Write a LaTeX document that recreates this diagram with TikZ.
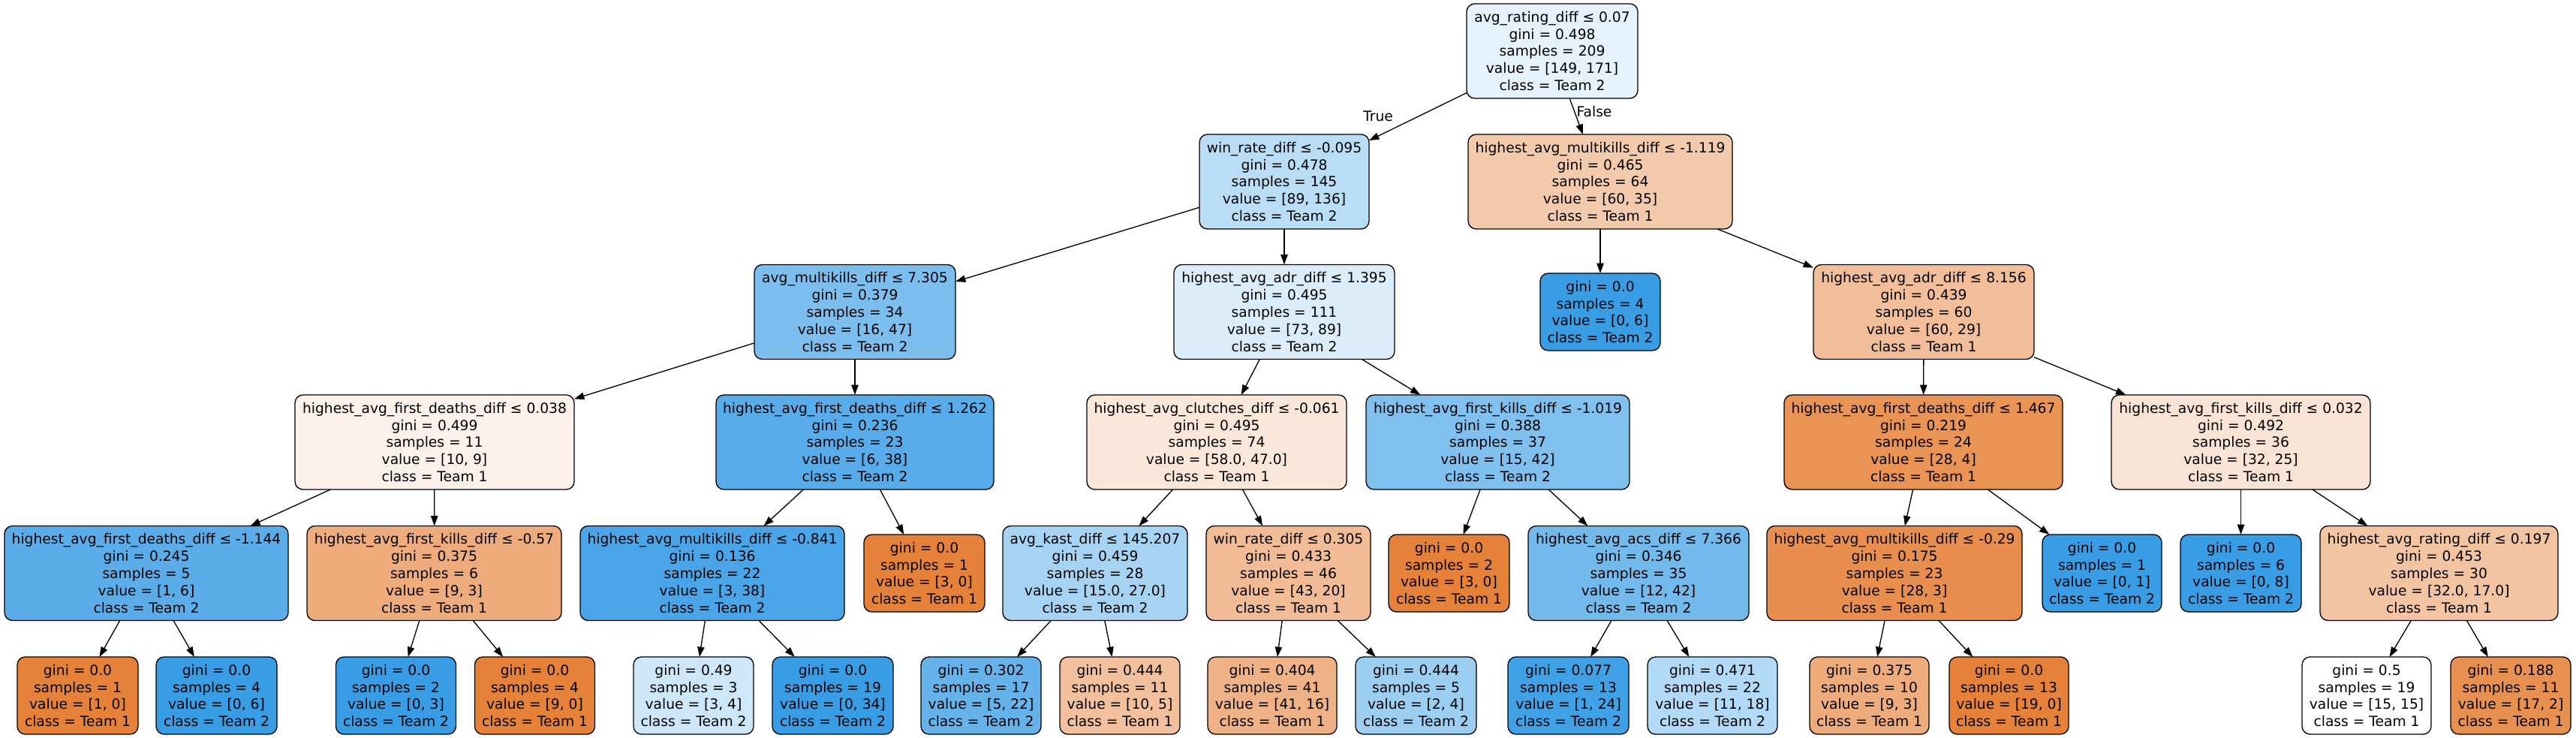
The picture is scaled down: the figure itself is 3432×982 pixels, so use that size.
\documentclass[tikz,border=0pt]{standalone}
\usepackage{fontspec}
\newfontfamily\dvs{DejaVu Sans}
\usetikzlibrary{arrows.meta}
\definecolor{cA}{RGB}{229,129,57}
\definecolor{cB}{RGB}{57,157,229}
\newcommand\splittxt[5]{#1\\gini = #2\\samples = #3\\value = [#4]\\class = Team #5}
\newcommand\leaftxt[4]{gini = #1\\samples = #2\\value = [#3]\\class = Team #4}
\tikzset{
  tn/.style={draw=black, line width=1pt, rounded corners=8pt, align=center,
    inner sep=0pt, outer sep=0pt, minimum height=126*0.75pt,
    font=\dvs\fontsize{14pt}{17.2pt}\selectfont},
  lf/.style={tn, minimum height=103*0.75pt},
  wd/.style={minimum width=#1*0.75pt},
  edg/.style={draw=black, line width=1pt, -{Triangle[length=10pt,width=7pt]}},
  elab/.style={inner sep=0pt, font=\dvs\fontsize{14pt}{17.2pt}\selectfont},
}
\begin{document}
\begin{tikzpicture}[x=0.75pt,y=-0.75pt]
\fill[white] (0,0) rectangle (3432,982);
\useasboundingbox (0,0) rectangle (3432,982);
% level 0
\node[tn, wd=228, fill=cB!12.9] (n0) at (2068,68) {\splittxt{avg\_rating\_diff ≤ 0.07}{0.498}{209}{149, 171}{2}};
% level 1
\node[tn, wd=226, fill=cB!34.6] (n1) at (1711,242) {\splittxt{win\_rate\_diff ≤ -0.095}{0.478}{145}{89, 136}{2}};
\node[tn, wd=352, fill=cA!41.7] (n2) at (2132,242) {\splittxt{highest\_avg\_multikills\_diff ≤ -1.119}{0.465}{64}{60, 35}{1}};
% level 2
\node[tn, wd=268, fill=cB!66.0] (n3) at (1139,415.5) {\splittxt{avg\_multikills\_diff ≤ 7.305}{0.379}{34}{16, 47}{2}};
\node[tn, wd=294, fill=cB!18.0] (n4) at (1711,415.5) {\splittxt{highest\_avg\_adr\_diff ≤ 1.395}{0.495}{111}{73, 89}{2}};
\node[lf, wd=160, fill=cB] (n5) at (2132,415.5) {\leaftxt{0.0}{4}{0, 6}{2}};
\node[tn, wd=294, fill=cA!51.7] (n6) at (2563,415.5) {\splittxt{highest\_avg\_adr\_diff ≤ 8.156}{0.439}{60}{60, 29}{1}};
% level 3
\node[tn, wd=372, fill=cA!10] (n7) at (579,589) {\splittxt{highest\_avg\_first\_deaths\_diff ≤ 0.038}{0.499}{11}{10, 9}{1}};
\node[tn, wd=370, fill=cB!84.2] (n8) at (1139,589) {\splittxt{highest\_avg\_first\_deaths\_diff ≤ 1.262}{0.236}{23}{6, 38}{2}};
\node[tn, wd=346, fill=cA!19.0] (n9) at (1621,589) {\splittxt{highest\_avg\_clutches\_diff ≤ -0.061}{0.495}{74}{58.0, 47.0}{1}};
\node[tn, wd=351, fill=cB!64.3] (n10) at (1995.5,589) {\splittxt{highest\_avg\_first\_kills\_diff ≤ -1.019}{0.388}{37}{15, 42}{2}};
\node[tn, wd=371, fill=cA!85.7] (n11) at (2562.5,589) {\splittxt{highest\_avg\_first\_deaths\_diff ≤ 1.467}{0.219}{24}{28, 4}{1}};
\node[tn, wd=345, fill=cA!21.9] (n12) at (2985.5,589) {\splittxt{highest\_avg\_first\_kills\_diff ≤ 0.032}{0.492}{36}{32, 25}{1}};
% level 4
\node[tn, wd=378, fill=cB!83.3] (n13) at (195,763.5) {\splittxt{highest\_avg\_first\_deaths\_diff ≤ -1.144}{0.245}{5}{1, 6}{2}};
\node[tn, wd=339, fill=cA!66.7] (n14) at (578.5,763.5) {\splittxt{highest\_avg\_first\_kills\_diff ≤ -0.57}{0.375}{6}{9, 3}{1}};
\node[tn, wd=352, fill=cB!92.1] (n15) at (949,763.5) {\splittxt{highest\_avg\_multikills\_diff ≤ -0.841}{0.136}{22}{3, 38}{2}};
\node[lf, wd=161, fill=cA] (n16) at (1231.5,763.5) {\leaftxt{0.0}{1}{3, 0}{1}};
\node[tn, wd=246, fill=cB!44.4] (n17) at (1459,763.5) {\splittxt{avg\_kast\_diff ≤ 145.207}{0.459}{28}{15.0, 27.0}{2}};
\node[tn, wd=219, fill=cA!53.5] (n18) at (1716.5,763.5) {\splittxt{win\_rate\_diff ≤ 0.305}{0.433}{46}{43, 20}{1}};
\node[lf, wd=161, fill=cA] (n19) at (1930.5,763.5) {\leaftxt{0.0}{2}{3, 0}{1}};
\node[tn, wd=294, fill=cB!71.4] (n20) at (2183,763.5) {\splittxt{highest\_avg\_acs\_diff ≤ 7.366}{0.346}{35}{12, 42}{2}};
\node[tn, wd=340, fill=cA!89.3] (n21) at (2524,763.5) {\splittxt{highest\_avg\_multikills\_diff ≤ -0.29}{0.175}{23}{28, 3}{1}};
\node[lf, wd=159, fill=cB] (n22) at (2800.5,763.5) {\leaftxt{0.0}{1}{0, 1}{2}};
\node[lf, wd=161, fill=cB] (n23) at (2985.5,763.5) {\leaftxt{0.0}{6}{0, 8}{2}};
\node[tn, wd=317, fill=cA!46.9] (n24) at (3249.5,763.5) {\splittxt{highest\_avg\_rating\_diff ≤ 0.197}{0.453}{30}{32.0, 17.0}{1}};
% level 5
\node[lf, wd=161, fill=cA] (l1) at (103.5,926.5) {\leaftxt{0.0}{1}{1, 0}{1}};
\node[lf, wd=161, fill=cB] (l2) at (288.5,926.5) {\leaftxt{0.0}{4}{0, 6}{2}};
\node[lf, wd=160, fill=cB] (l3) at (527.5,926.5) {\leaftxt{0.0}{2}{0, 3}{2}};
\node[lf, wd=160, fill=cA] (l4) at (712.5,926.5) {\leaftxt{0.0}{4}{9, 0}{1}};
\node[lf, wd=160, fill=cB!25] (l5) at (924,926.5) {\leaftxt{0.49}{3}{3, 4}{2}};
\node[lf, wd=161, fill=cB] (l6) at (1109.5,926.5) {\leaftxt{0.0}{19}{0, 34}{2}};
\node[lf, wd=160, fill=cB!77.3] (l7) at (1307,926.5) {\leaftxt{0.302}{17}{5, 22}{2}};
\node[lf, wd=160, fill=cA!50] (l8) at (1492,926.5) {\leaftxt{0.444}{11}{10, 5}{1}};
\node[lf, wd=172, fill=cA!61.0] (l9) at (1695,926.5) {\leaftxt{0.404}{41}{41, 16}{1}};
\node[lf, wd=161, fill=cB!50] (l10) at (1886.5,926.5) {\leaftxt{0.444}{5}{2, 4}{2}};
\node[lf, wd=161, fill=cB!95.8] (l11) at (2089.5,926.5) {\leaftxt{0.077}{13}{1, 24}{2}};
\node[lf, wd=173, fill=cB!38.9] (l12) at (2281.5,926.5) {\leaftxt{0.471}{22}{11, 18}{2}};
\node[lf, wd=159, fill=cA!66.7] (l13) at (2490.5,926.5) {\leaftxt{0.375}{10}{9, 3}{1}};
\node[lf, wd=159, fill=cA] (l14) at (2676.5,926.5) {\leaftxt{0.0}{13}{19, 0}{1}};
\node[lf, wd=172, fill=white] (l15) at (3153,926.5) {\leaftxt{0.5}{19}{15, 15}{1}};
\node[lf, wd=160, fill=cA!88.2] (l16) at (3345,926.5) {\leaftxt{0.188}{11}{17, 2}{1}};
% edges
\draw[edg] (n0) -- (n1);
\draw[edg] (n0) -- (n2);
\draw[edg] (n1) -- (n3);
\draw[edg] (n1) -- (n4);
\draw[edg] (n2) -- (n5);
\draw[edg] (n2) -- (n6);
\draw[edg] (n3) -- (n7);
\draw[edg] (n3) -- (n8);
\draw[edg] (n4) -- (n9);
\draw[edg] (n4) -- (n10);
\draw[edg] (n6) -- (n11);
\draw[edg] (n6) -- (n12);
\draw[edg] (n7) -- (n13);
\draw[edg] (n7) -- (n14);
\draw[edg] (n8) -- (n15);
\draw[edg] (n8) -- (n16);
\draw[edg] (n9) -- (n17);
\draw[edg] (n9) -- (n18);
\draw[edg] (n10) -- (n19);
\draw[edg] (n10) -- (n20);
\draw[edg] (n11) -- (n21);
\draw[edg] (n11) -- (n22);
\draw[edg] (n12) -- (n23);
\draw[edg] (n12) -- (n24);
\draw[edg] (n13) -- (l1);
\draw[edg] (n13) -- (l2);
\draw[edg] (n14) -- (l3);
\draw[edg] (n14) -- (l4);
\draw[edg] (n15) -- (l5);
\draw[edg] (n15) -- (l6);
\draw[edg] (n17) -- (l7);
\draw[edg] (n17) -- (l8);
\draw[edg] (n18) -- (l9);
\draw[edg] (n18) -- (l10);
\draw[edg] (n20) -- (l11);
\draw[edg] (n20) -- (l12);
\draw[edg] (n21) -- (l13);
\draw[edg] (n21) -- (l14);
\draw[edg] (n24) -- (l15);
\draw[edg] (n24) -- (l16);
% edge labels
\node[elab] (tlab) at (1836,155) {True};
\node[elab] (flab) at (2124,149) {False};
\end{tikzpicture}
\end{document}
